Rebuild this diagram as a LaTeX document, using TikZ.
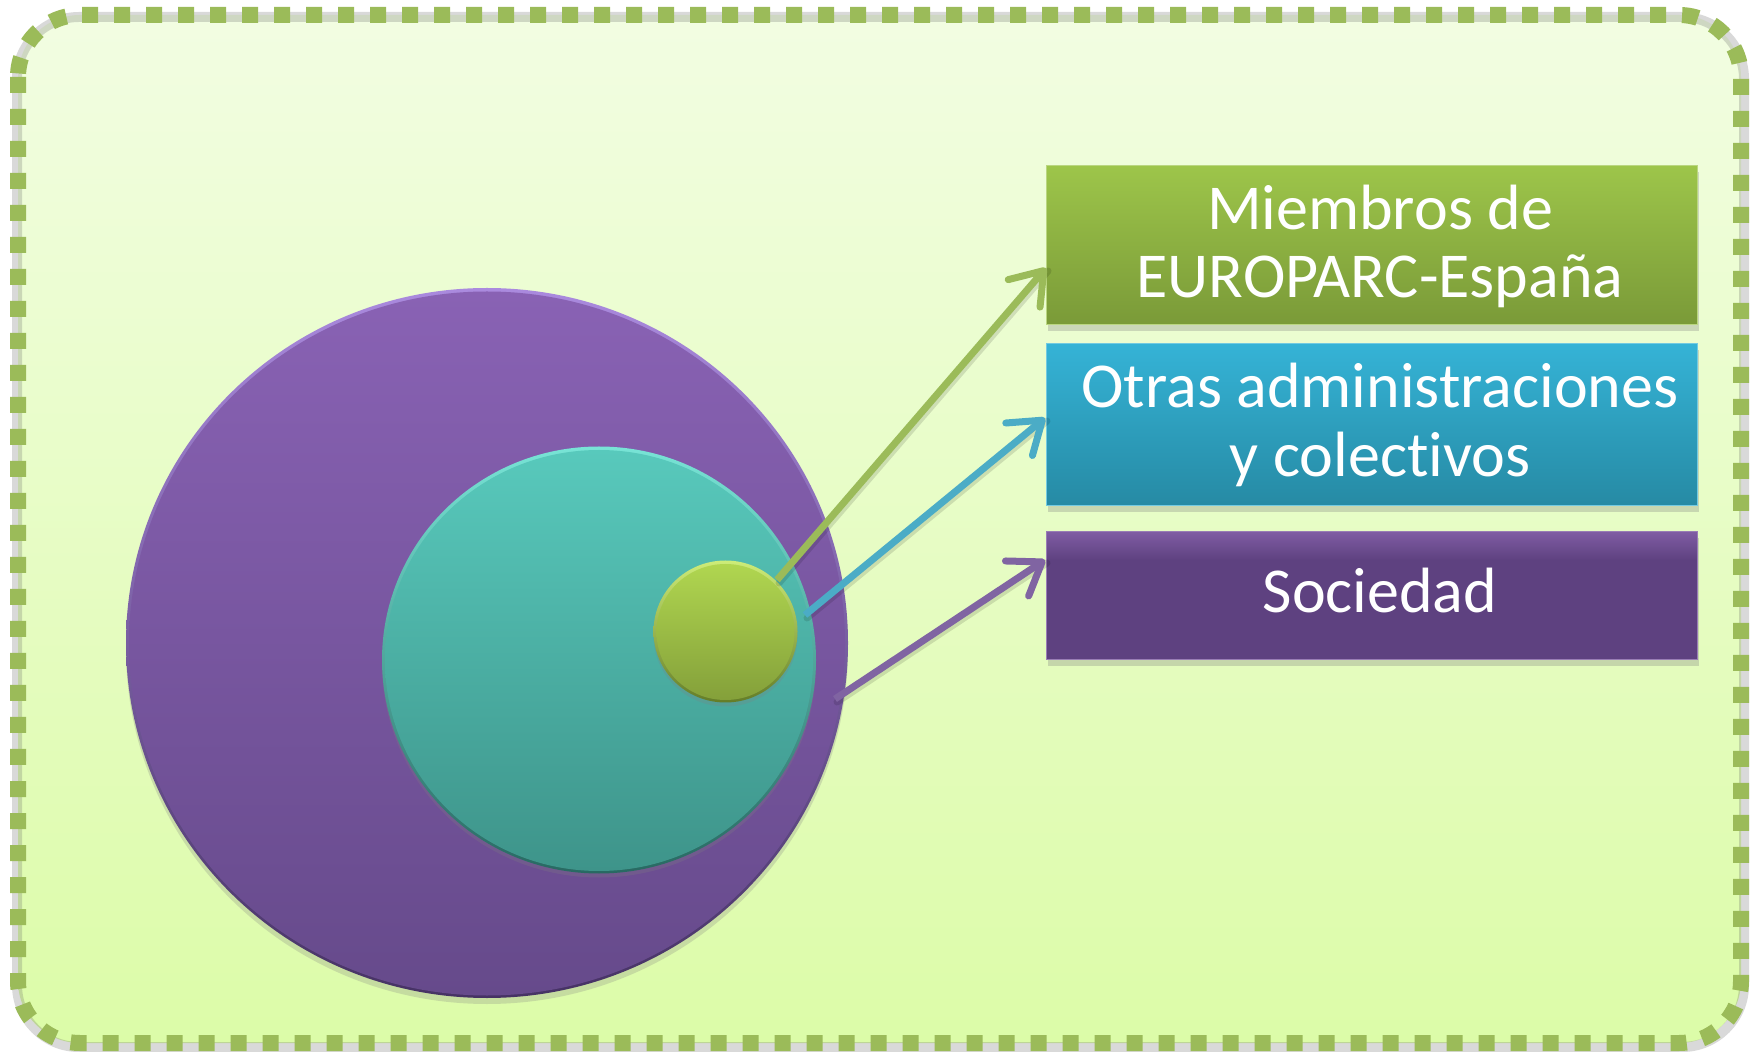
\documentclass[tikz,border=0pt]{standalone}
\usepackage{fontspec}
\setmainfont{Carlito}[Ligatures=NoCommon]
\usetikzlibrary{arrows.meta,shadows,shapes.geometric}
\definecolor{bgT}{RGB}{242,253,226}
\definecolor{bgB}{RGB}{220,252,168}
\definecolor{frameG}{RGB}{155,187,89}
\definecolor{purT}{RGB}{137,98,180}
\definecolor{purB}{RGB}{102,74,139}
\definecolor{purRimT}{RGB}{170,138,222}
\definecolor{purRimB}{RGB}{70,50,100}
\definecolor{tealT}{RGB}{88,201,188}
\definecolor{tealB}{RGB}{62,148,138}
\definecolor{tealRimT}{RGB}{120,228,214}
\definecolor{tealRimB}{RGB}{40,105,98}
\definecolor{grnT}{RGB}{176,214,80}
\definecolor{grnB}{RGB}{132,160,58}
\definecolor{grnRimT}{RGB}{205,236,120}
\definecolor{grnRimB}{RGB}{100,125,40}
\definecolor{b1T}{RGB}{157,197,74}
\definecolor{b1B}{RGB}{122,154,56}
\definecolor{b2T}{RGB}{53,179,214}
\definecolor{b2B}{RGB}{38,138,164}
\definecolor{b3L}{RGB}{127,92,163}
\definecolor{b3D}{RGB}{94,65,128}
\definecolor{arG}{RGB}{155,187,89}
\definecolor{arB}{RGB}{75,172,198}
\definecolor{arP}{RGB}{128,100,162}
\pgfdeclareverticalshading{socshade}{100bp}{color(0bp)=(b3D); color(25bp)=(b3D); color(64bp)=(b3D); color(75bp)=(b3L); color(100bp)=(b3L)}
\begin{document}
\begin{tikzpicture}[x=0.5pt,y=-0.5pt,
  lbl/.style={text=white, font=\fontsize{32pt}{34pt}\selectfont, inner sep=0pt, anchor=base},
  box/.style={rectangle, inner sep=0pt, minimum width=325.5pt,
    drop shadow={opacity=0.3, shadow xshift=1pt, shadow yshift=-3pt}},
  disc/.style={ellipse, inner sep=0pt},
  conn/.style={line width=3.5pt, -{Straight Barb[length=15pt,width=21pt,round]}},
  connshadow/.style={line width=3.5pt, black, opacity=0.12, line cap=round}
]
\useasboundingbox (0,0) rectangle (1761,1052);
% frame
\shade[top color=bgT, bottom color=bgB, rounded corners=31pt] (18,15) rectangle (1741,1043);
\draw[black!60, opacity=0.25, line width=5pt, rounded corners=31pt] (17,17) rectangle (1744,1047);
\draw[frameG, line width=8pt, dash pattern=on 8pt off 8pt, rounded corners=31pt] (18,15) rectangle (1741,1043);
% circles
\node[disc, minimum width=361pt, minimum height=355pt, top color=purRimT, bottom color=purRimB,
  drop shadow={opacity=0.25, shadow xshift=0pt, shadow yshift=-3pt}] (purrim) at (487,643) {};
\node[disc, minimum width=358pt, minimum height=352pt, top color=purT, bottom color=purB] (pur) at (487,643.5) {};
\node[disc, minimum width=217pt, minimum height=213.5pt, top color=tealRimT, bottom color=tealRimB,
  drop shadow={opacity=0.25, shadow xshift=0pt, shadow yshift=-2pt}] (tealrim) at (599,660) {};
\node[disc, minimum width=214pt, minimum height=210.5pt, top color=tealT, bottom color=tealB] (teal) at (599,660.5) {};
\node[disc, minimum width=72pt, minimum height=71pt, top color=grnRimT, bottom color=grnRimB,
  drop shadow={opacity=0.25, shadow xshift=0pt, shadow yshift=-2pt}] (grnrim) at (725.5,631.5) {};
\node[disc, minimum width=69pt, minimum height=68pt, top color=grnT, bottom color=grnB] (grn) at (725.5,632) {};
% boxes
\node[box, minimum height=79.5pt, top color=b1T, bottom color=b1B, draw=b1T!70!white, line width=0.5pt] (b1) at (1371.5,245.5) {};
\node[box, minimum height=81pt, top color=b2T, bottom color=b2B, draw=b2T!70!white, line width=0.5pt] (b2) at (1371.5,425) {};
\node[box, minimum height=64pt, shading=socshade, draw=b3L!80!white, line width=0.5pt] (b3) at (1371.5,596) {};
% labels
\node[lbl] (l1a) at (1380,230) {Miembros de};
\node[lbl] (l1b) at (1380,298) {EUROPARC-España};
\node[lbl] (l2a) at (1380,408) {Otras administraciones};
\node[lbl] (l2b) at (1380,477) {y colectivos};
\node[lbl] (l3) at (1380,613) {Sociedad};
% arrows
\coordinate (s1) at (777,580);
\coordinate (t1) at (1046,268);
\coordinate (s2) at (805,615);
\coordinate (t2) at (1045,418);
\coordinate (s3) at (835,699);
\coordinate (t3) at (1045,560);
\draw[connshadow, transform canvas={xshift=1pt,yshift=-1.5pt}] (s1) -- (t1);
\draw[connshadow, transform canvas={xshift=1pt,yshift=-1.5pt}] (s2) -- (t2);
\draw[connshadow, transform canvas={xshift=1pt,yshift=-1.5pt}] (s3) -- (t3);
\draw[conn, arG] (s1) -- (t1);
\draw[conn, arB] (s2) -- (t2);
\draw[conn, arP] (s3) -- (t3);
\end{tikzpicture}
\end{document}
